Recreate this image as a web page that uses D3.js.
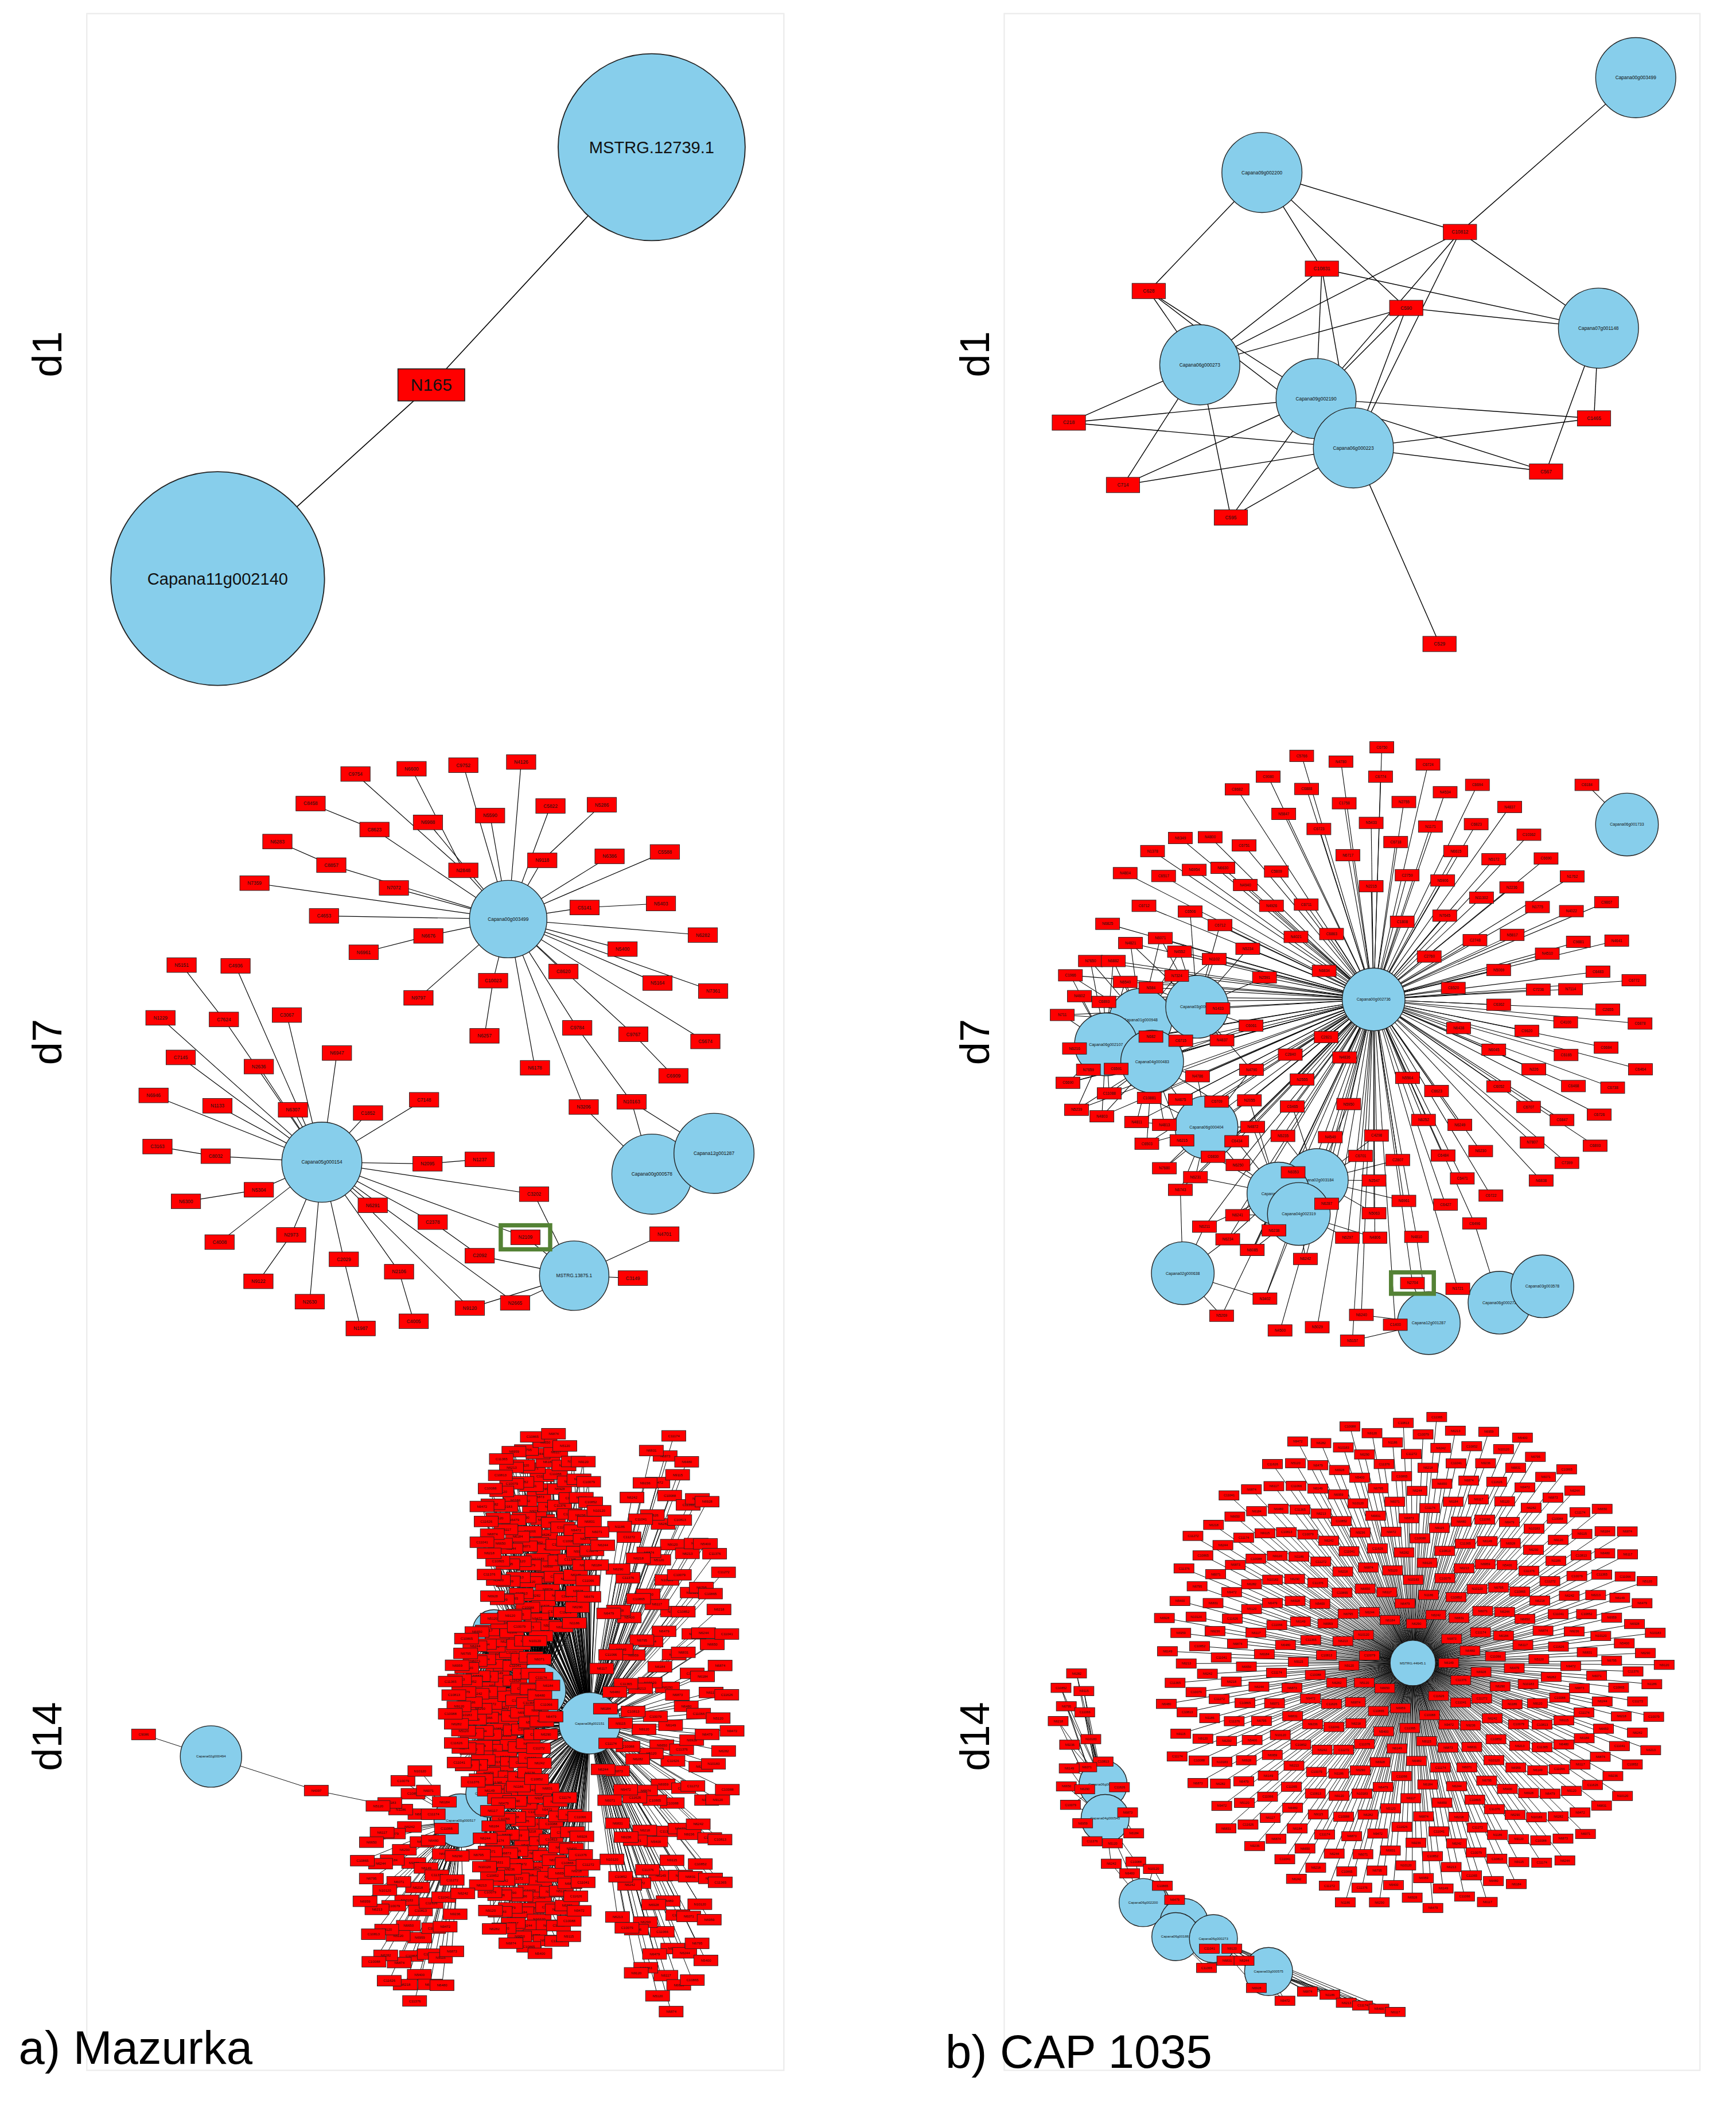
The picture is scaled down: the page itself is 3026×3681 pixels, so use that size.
<!DOCTYPE html>
<html>
<head>
<meta charset="utf-8">
<script src="https://cdn.jsdelivr.net/npm/d3@7"></script>
<style>
  body { margin: 0; background: #fff; }
  text { font-family: "Liberation Sans", Arial, sans-serif; }
</style>
</head>
<body>
<svg id="chart"></svg>
<script>
// ---------- data ----------
var rowLabels = ["d1", "d7", "d14"];
var panelTitles = ["a) Mazurka", "b) CAP 1035"];

// a) d1
var aD1Hubs = [["MSTRG.12739.1", 488, 110, 70], ["Capana11g002140", 163, 433, 80]];
var aD1Rects = [["N165", 323, 288, "MSTRG.12739.1;Capana11g002140"]];

// b) d1 (layout units)
var bD1Hubs = [["Capana00g003499", 1432, 162], ["Capana09g002200", 590, 387], ["Capana06g000273", 450, 843],
  ["Capana09g002190", 712, 923], ["Capana06g000223", 796, 1040], ["Capana07g001148", 1348, 756]];
var bD1Rects = [
  ["C10812", 1036, 528, "Capana00g003499;Capana09g002200;Capana07g001148;Capana06g000273;Capana09g002190;Capana06g000223"],
  ["C10831", 725, 615, "Capana09g002200;Capana07g001148;Capana06g000273;Capana09g002190;Capana06g000223"],
  ["C628", 335, 668, "Capana09g002200;Capana06g000273;Capana09g002190;Capana06g000223"],
  ["C590", 915, 708, "Capana09g002200;Capana07g001148;Capana06g000273;Capana09g002190;Capana06g000223"],
  ["C218", 155, 980, "Capana06g000273;Capana09g002190;Capana06g000223"],
  ["C1465", 1338, 970, "Capana07g001148;Capana09g002190;Capana06g000223"],
  ["C714", 277, 1128, "Capana06g000273;Capana09g002190;Capana06g000223"],
  ["C595", 520, 1205, "Capana06g000273;Capana09g002190;Capana06g000223"],
  ["C567", 1230, 1096, "Capana07g001148;Capana09g002190;Capana06g000223"],
  ["C529", 990, 1505, "Capana06g000223"]];

// a) d7 (layout units)
var aD7Hubs = [["H1", "Capana00g003499", 975, 480, 29], ["H2", "Capana05g000154", 543, 1088, 30],
  ["H3", "MSTRG.13875.1", 1128, 1372, 26], ["H4", "Capana00g000578", 1308, 1118, 30], ["H5", "Capana12g001287", 1452, 1066, 30]];
var aD7Rects = [
  ["C9754",621,117,"N2848"],["N6600",751,104,"N2848"],["C9752",871,95,"H1"],["N4126",1005,87,"H1"],
  ["C8458",517,191,"C8623"],["C8623",665,256,"H1"],["N6988",789,238,"H1"],["N5590",933,221,"H1"],
  ["C5822",1073,197,"H1"],["N5286",1192,194,"N9118"],["N6283",440,286,"C8857"],["C8857",565,345,"H1"],
  ["N9118",1054,333,"H1"],["N6386",1210,323,"H1"],["C5588",1338,312,"H1"],["N7359",387,390,"H1"],
  ["N7072",710,402,"H1"],["N2848",871,358,"H1"],["C4653",548,472,"H1"],["C5141",1152,451,"H1"],
  ["N5403",1329,441,"C5141"],["N6282",1426,520,"H1"],["N6676",790,522,"H1"],["N6961",640,563,"N6676"],
  ["N5400",1240,555,"H1"],["C8620",1103,611,"H1"],["N5164",1321,640,"H1"],["N7361",1450,660,"H1"],
  ["C10023",940,634,"H1"],["N9797",767,677,"H1"],["N6257",920,772,"C10023"],["C9784",1135,752,"H1"],
  ["C9767",1265,768,"H1"],["C5674",1432,786,"H1"],["N6178",1037,852,"H1"],["C6909",1358,872,"C9767"],
  ["N3206",1150,950,"H1;H4"],["N10163",1261,937,"C9784;H4;H5"],
  ["N5151",218,595,"C7624"],["C4936",343,597,"H2"],["N1229",169,727,"H2"],["C7624",316,731,"H2"],
  ["C3067",462,720,"H2"],["N6947",578,815,"H2"],["C7145",216,826,"H2"],["N2636",397,849,"H2"],
  ["N6946",153,921,"H2"],["N1133",301,947,"H2"],["N6307",476,957,"H2"],["C1852",650,965,"H2"],
  ["C7148",780,932,"H2"],["C3163",162,1049,"C8032"],["C8032",297,1073,"H2"],["N2095",788,1092,"H2"],
  ["N1237",909,1081,"N2095"],["C3202",1035,1168,"H2;H3"],["N5304",397,1157,"H2"],["N6300",228,1186,"N5304"],
  ["N6291",661,1196,"H2"],["C2378",800,1238,"H2"],["C4008",306,1288,"H2"],["N2973",472,1270,"H2"],
  ["N9122",396,1386,"N2973"],["C2029",594,1331,"H2"],["N2106",722,1362,"H2"],["C2092",909,1322,"C2378;H3"],
  ["N2109",1015,1276,"H2;H3"],["N2630",515,1437,"H2"],["N1987",633,1504,"C2029"],["C4005",756,1486,"N2106"],
  ["N9120",886,1453,"H2;H3"],["N2665",991,1440,"H2;H3"],["N4701",1337,1268,"H3"],["C3149",1264,1378,"H3"]];
var aD7Marked = "N2109";

// b) d7 (layout units)
var bD7Hubs = [["A","Capana00g002736",855,690],["B","Capana01g000948",285,740],["C","Capana03g000692",423,708],
  ["D","Capana06g002107",200,800],["E","Capana04g000483",313,842],["F","Capana06g000404",446,1003],
  ["G","Capana02g003184",716,1132],["H","Capana06g002959",622,1165],["I","Capana04g002319",672,1215],
  ["J","Capana02g000638",388,1360],["K","Capana12g001287",990,1482],["L","Capana06g000272",1163,1432],
  ["M","Capana03g003578",1268,1392],["N","Capana06g001733",1475,262]];
var bD7Rects = [
  [679,94,"C5766"],[775,108,"N4780"],[875,73,"C6750"],[988,115,"C6724"],[597,145,"C9080"],[691,175,"C6888"],
  [872,145,"C6774"],[1109,165,"C6694"],[521,176,"C8682"],[1030,183,"N4534"],[783,210,"C1758"],[929,207,"N2755"],
  [1188,219,"N4837"],[635,236,"N5847"],[849,258,"N5433"],[994,267,"N1171"],[721,273,"C6723"],[1106,261,"C6823"],
  [1235,287,"C10362"],[538,313,"C6751"],[909,305,"C6718"],[1056,327,"N6615"],[792,337,"N6717"],[1149,347,"N5172"],
  [1277,345,"C6690"],[617,377,"C5809"],[937,386,"C2759"],[1024,399,"N5906"],[849,413,"N2215"],[1193,416,"N2236"],
  [1341,389,"N1762"],[690,458,"C6711"],[605,461,"N4926"],[1119,441,"N11302"],[1256,464,"N1775"],[1425,452,"C9867"],
  [1029,485,"N7645"],[925,500,"C1808"],[1339,474,"N4022"],[752,530,"C6863"],[665,537,"N4021"],[1194,532,"N5817"],
  [1103,545,"C2748"],[1356,549,"C9881"],[1450,546,"N4641"],[991,585,"C2760"],[1280,578,"N4510"],[734,620,"N6834"],
  [1161,618,"N5069"],[1404,622,"C6483"],[1492,643,"C6772"],[1050,662,"C6520"],[1258,666,"C7236"],[1337,665,"N7114"],
  [1161,703,"C6362"],[1428,715,"C2655"],[1325,746,"C4100"],[1507,749,"C6878"],[1230,767,"C9620"],[1063,760,"N6438"],
  [1424,808,"C6684"],[1149,813,"N6045"],[1326,826,"C6165"],[1247,861,"N226"],[1508,861,"C6464"],[1161,903,"C6052"],
  [1344,902,"C6468"],[1440,906,"C6738"],[1234,953,"C6707"],[1316,985,"C6847"],[1407,972,"C6726"],[1243,1040,"N7807"],
  [1397,1048,"C6893"],[1328,1090,"C7399"],[1265,1133,"N6838"],[938,882,"N5564"],[1009,914,"C6623"],[977,985,"N6252"],
  [1066,997,"N6249"],[1117,1061,"N6230"],[1025,1072,"C6484"],[1072,1128,"C6471"],[1142,1170,"C6722"],[1031,1192,"C6427"],
  [1102,1238,"C6496"],[862,1023,"C4298"],[914,1083,"C2807"],[823,1073,"C6701"],[856,1133,"N2547"],[929,1183,"N6961"],
  [856,1213,"N5063"],[960,1271,"N4810"],[791,1273,"N6297"],[858,1273,"N4806"],[1061,1398,"N1721"],[908,1486,"C1400"],
  [825,1462,"N6240"],[803,1525,"N5157"],[717,1492,"N5029"],[626,1500,"N4500"],[483,1464,"N5269"],[589,1422,"N3402"],
  [688,1325,"N6242"],[740,1190,"N6287"],[784,832,"N4836"],[739,782,"C2821"],[680,886,"N2555"],[656,952,"C6465"],
  [794,946,"N5950"],[749,1027,"N4549"],[633,1024,"N5235"],[559,1002,"N4872"],[551,937,"N2055"],[651,825,"C2840"],
  [556,862,"N4790"],[588,636,"N2591"],[555,754,"C6061"],[484,790,"N4837"],[474,712,"N1433"],[547,566,"N5234"],
  [465,591,"N1102"],[382,295,"N6349"],[455,293,"N4800"],[314,327,"N1378"],[247,381,"N4804"],[341,388,"C6517"],
  [416,373,"N6954"],[486,368,"N6630"],[541,410,"N4940"],[293,461,"C6712"],[406,475,"C6506"],[479,508,"C6712"],
  [204,505,"N6825"],[333,540,"N6071"],[260,552,"N4821"],[380,573,"N4552"],[162,596,"N7650"],[218,596,"N6882"],
  [113,631,"C1966"],[247,647,"N6540"],[373,632,"N7324"],[310,661,"N584"],[135,682,"N4602"],[195,696,"C6893"],
  [93,728,"N711"],[123,810,"N6216"],[310,781,"N682"],[383,791,"C6715"],[157,862,"N7659"],[225,860,"C6591"],
  [107,894,"C6690"],[208,920,"C11088"],[424,878,"N4786"],[128,960,"N5239"],[190,976,"N4803"],[306,931,"C10881"],
  [382,935,"N4675"],[471,940,"C6709"],[275,990,"N4811"],[343,997,"N4813"],[300,1043,"C6503"],[386,1035,"N6215"],
  [520,1037,"C6434"],[462,1075,"C6830"],[523,1095,"N6250"],[343,1103,"N7680"],[419,1125,"N6231"],[382,1156,"N6743"],
  [658,1113,"N6353"],[522,1218,"N6241"],[441,1246,"N6211"],[498,1277,"N6234"],[558,1303,"N6085"],[611,1255,"N6238"],
  [950,1384,"N2704"]];
var bD7Lone = [1377, 165, "C6184", "N"];
var bD7Marked = "N2704";

// a) d14: hubs and rectangle groups (counts per group)
var aD14Hubs = [["S","Capana02g000494",235,893,23],["P","Capana00g000517",835,1053,20],["P2","Capana03g000102",905,985,18],
  ["Q","Capana08g002151",1145,810,23],["R1","Capana01g001287",1020,730,21],["R2","Capana04g000881",915,580,16]];
var aD14Side = [["C9086",73,838,"S"],["N4397",488,978,"S;P"]];
var aD14Groups = [
  {hubs: "Q", count: 150, cx: 1330, cy: 815, rx: 160, ry: 735},
  {hubs: "Q;R1", count: 115, cx: 1030, cy: 340, rx: 150, ry: 260},
  {hubs: "R1;R2;Q", count: 115, cx: 930, cy: 770, rx: 125, ry: 235},
  {hubs: "P2;Q", count: 95, cx: 1010, cy: 1170, rx: 135, ry: 225},
  {hubs: "P", count: 60, cx: 720, cy: 1220, rx: 125, ry: 300}];

// b) d14
var bD14Hub = ["MSTRG.44645.1", 943, 707, 17];
var bD14Disc = {count: 390, rOuter: 625, rInner: 85};
var bD14Chain = [["Capana06g001143",185,1010],["Capana04g000545",190,1095],["Capana06g002200",283,1305],
  ["Capana03g000577",383,1355],["Capana06g001883",363,1390],["Capana06g000273",455,1395],["Capana03g000575",590,1477]];
var bD14ChainRects = [[120,733],[82,769],[138,777],[95,815],[140,830],[75,852],[155,897],[103,911],[185,953],
  [145,967],[102,970],[95,1015],[140,1022],[225,1017],[105,1061],[245,1080],[135,1107],[260,1132],[158,1152],
  [208,1157],[205,1208],[265,1203],[308,1221],[250,1232],[330,1263],[360,1298],[445,1420],[500,1420],[488,1450],
  [438,1468],[530,1450],[560,1518],[685,1527],[740,1535],[630,1550],[780,1555],[820,1562],[860,1570],[900,1578]];

var labelPool = ["N6149","N6650","N6290","C11626","C10079","N6873","N6959","N6184","C11376","N5120","N6242","C10088",
  "N10120","N6480","C10865","N6479","C11041","N9120","N6831","C11365","N6244","N6928","N6874","N1186","N9472","N6213",
  "C11174","N5400","N6117","C11272","N6282","C10852","N9115","N6795","C11066","N6218","N10183","N9236","C10813","N6071"];

// ---------- drawing ----------
var W = 1300, H = 1581;
var svg = d3.select("#chart").attr("width", 3026).attr("height", 3681).attr("viewBox", "0 0 " + W + " " + H);
svg.append("rect").attr("width", W).attr("height", H).attr("fill", "#fff");

// panel frames
[[65, 587], [752, 1273]].forEach(function (f) {
  svg.append("rect").attr("x", f[0]).attr("y", 10).attr("width", f[1] - f[0]).attr("height", 1540)
    .attr("fill", "none").attr("stroke", "#ececec").attr("stroke-width", 1);
});

var BLUE = "#87CEEB", RED = "#FF0000";

function drawNet(g, hubs, rects, edges, o) {
  g.append("g").selectAll("line").data(edges).join("line")
    .attr("x1", d => d[0].x).attr("y1", d => d[0].y).attr("x2", d => d[1].x).attr("y2", d => d[1].y)
    .attr("stroke", "#000").attr("stroke-width", o.lw || 0.45);
  var hg = g.append("g").selectAll("g").data(hubs).join("g");
  hg.append("circle").attr("cx", d => d.x).attr("cy", d => d.y).attr("r", d => d.r)
    .attr("fill", BLUE).attr("stroke", "#222").attr("stroke-width", o.hw || 0.6);
  hg.append("text").attr("x", d => d.x).attr("y", d => d.y).attr("dy", "0.35em").attr("text-anchor", "middle")
    .attr("font-size", o.hf).attr("fill", "#111").text(d => d.label);
  var rg = g.append("g").selectAll("g").data(rects).join("g");
  rg.append("rect").attr("x", d => d.x - o.rw / 2).attr("y", d => d.y - o.rh / 2)
    .attr("width", o.rw).attr("height", o.rh).attr("fill", RED).attr("stroke", "#222").attr("stroke-width", o.rs || 0.4);
  rg.append("text").attr("x", d => d.x).attr("y", d => d.y).attr("dy", "0.35em").attr("text-anchor", "middle")
    .attr("font-size", o.rf).attr("fill", "#111").text(d => d.label);
}

function edgesFrom(list, index) {
  var e = [];
  list.forEach(function (n) {
    n.parents.split(";").forEach(function (p) { if (index[p]) e.push([n, index[p]]); });
  });
  return e;
}

function marker(g, n, w, h) {
  g.append("rect").attr("x", n.x - w / 2).attr("y", n.y - h / 2).attr("width", w).attr("height", h)
    .attr("fill", "none").attr("stroke", "#548235").attr("stroke-width", 3.2);
}

// a) d1
(function () {
  var g = svg.append("g");
  var idx = {};
  var hubs = aD1Hubs.map(d => (idx[d[0]] = {label: d[0], x: d[1], y: d[2], r: d[3]}));
  var rects = aD1Rects.map(d => ({label: d[0], x: d[1], y: d[2], parents: d[3]}));
  drawNet(g, hubs, rects, edgesFrom(rects, idx), {hf: 12.5, rw: 50, rh: 24, rf: 13, lw: 0.7, hw: 0.8, rs: 0.7});
})();

// b) d1
(function () {
  var x = d3.scaleLinear().domain([590, 1348]).range([945, 1197]);
  var y = d3.scaleLinear().domain([387, 1505]).range([129, 482]);
  var g = svg.append("g"), idx = {};
  var hubs = bD1Hubs.map(d => (idx[d[0]] = {label: d[0], x: x(d[1]), y: y(d[2]), r: 30}));
  var rects = bD1Rects.map(d => ({label: d[0], x: x(d[1]), y: y(d[2]), parents: d[3]}));
  drawNet(g, hubs, rects, edgesFrom(rects, idx), {hf: 3.6, rw: 25, rh: 11.5, rf: 3.6, lw: 0.6});
})();

// a) d7
(function () {
  var x = d3.scaleLinear().domain([543, 1128]).range([241, 430]);
  var y = d3.scaleLinear().domain([480, 1372]).range([688, 955]);
  var g = svg.append("g"), idx = {};
  var hubs = aD7Hubs.map(d => (idx[d[0]] = {label: d[1], x: x(d[2]), y: y(d[3]), r: d[4]}));
  var rects = aD7Rects.map(d => (idx[d[0]] = {label: d[0], x: x(d[1]), y: y(d[2]), parents: d[3]}));
  drawNet(g, hubs, rects, edgesFrom(rects, idx), {hf: 3.6, rw: 22, rh: 11, rf: 3.6, lw: 0.5});
  marker(g, idx[aD7Marked], 37, 18);
})();

// b) d7
(function () {
  var x = d3.scaleLinear().domain([0, 1000]).range([767, 1073]);
  var y = d3.scaleLinear().domain([0, 1000]).range([537, 843]);
  var g = svg.append("g"), idx = {};
  var hubs = bD7Hubs.map(d => (idx[d[0]] = {id: d[0], label: d[1], x: x(d[2]), y: y(d[3]), ux: d[2], uy: d[3], r: 23.5}));
  var rects = bD7Rects.map(function (d) {
    var others = hubs.filter(h => h.id !== "A" && h.id !== "N")
      .map(h => ({h: h, dist: Math.hypot(h.ux - d[0], h.uy - d[1])}))
      .sort((a, b) => a.dist - b.dist);
    var p = ["A"];
    if (others[0].dist < 240) p.push(others[0].h.id);
    if (d[0] < 600 && others[1].dist < 260) p.push(others[1].h.id);
    return (idx[d[2]] = {label: d[2], x: x(d[0]), y: y(d[1]), parents: p.join(";")});
  });
  rects.push({label: bD7Lone[2], x: x(bD7Lone[0]), y: y(bD7Lone[1]), parents: bD7Lone[3]});
  drawNet(g, hubs, rects, edgesFrom(rects, idx), {hf: 3, rw: 18, rh: 8.6, rf: 2.8, lw: 0.45});
  marker(g, idx[bD7Marked], 32, 16);
})();

// sunflower placement of a group of nodes inside an ellipse
var golden = Math.PI * (3 - Math.sqrt(5));
function spread(count, cx, cy, rx, ry, hole) {
  var t = d3.scaleLinear().domain([0, count]).range([hole * hole, 1]);
  return d3.range(count).map(function (i) {
    var rr = Math.sqrt(t(i + 0.5)), a = i * golden;
    return [cx + rx * rr * Math.cos(a), cy + ry * rr * Math.sin(a)];
  });
}

// a) d14
(function () {
  var x = d3.scaleLinear().domain([235, 835]).range([158, 345]);
  var y = d3.scaleLinear().domain([893, 1053]).range([1315, 1363]);
  var g = svg.append("g"), idx = {};
  var hubs = aD14Hubs.map(d => (idx[d[0]] = {label: d[1], x: x(d[2]), y: y(d[3]), r: d[4]}));
  var rects = aD14Side.map(d => (idx[d[0]] = {label: d[0], x: x(d[1]), y: y(d[2]), parents: d[3]}));
  var k = 0;
  aD14Groups.forEach(function (gr) {
    spread(gr.count, gr.cx, gr.cy, gr.rx, gr.ry, 0).forEach(function (p) {
      rects.push({label: labelPool[k++ % labelPool.length], x: x(p[0]), y: y(p[1]), parents: gr.hubs});
    });
  });
  // hubs behind rectangles are partly hidden as in the reference
  drawNet(g, hubs, rects, edgesFrom(rects, idx), {hf: 2.6, rw: 18, rh: 8, rf: 2.6, lw: 0.4});
})();

// b) d14
(function () {
  var x = d3.scaleLinear().domain([943, 1043]).range([1058, 1088.6]);
  var y = d3.scaleLinear().domain([707, 807]).range([1245, 1275]);
  var g = svg.append("g"), idx = {};
  var hub = idx.hub = {label: bD14Hub[0], x: x(bD14Hub[1]), y: y(bD14Hub[2]), r: bD14Hub[3]};
  var hubs = [hub];
  var chainHubs = bD14Chain.map(function (d, i) {
    var h = {label: d[0], x: x(d[1]), y: y(d[2]), ux: d[1], uy: d[2], r: 18};
    idx["c" + i] = h; return h;
  });
  var rects = [], k = 0;
  spread(bD14Disc.count, bD14Hub[1], bD14Hub[2], bD14Disc.rOuter, bD14Disc.rOuter, bD14Disc.rInner / bD14Disc.rOuter)
    .forEach(function (p) {
      rects.push({label: labelPool[k++ % labelPool.length], x: x(p[0]), y: y(p[1]), parents: "hub"});
    });
  bD14ChainRects.forEach(function (d) {
    var near = chainHubs.map((h, i) => ({i: i, dist: Math.hypot(h.ux - d[0], h.uy - d[1])}))
      .sort((a, b) => a.dist - b.dist);
    rects.push({label: labelPool[k++ % labelPool.length], x: x(d[0]), y: y(d[1]),
      parents: "c" + near[0].i + ";c" + near[1].i});
  });
  drawNet(g, hubs.concat(chainHubs), rects, edgesFrom(rects, idx), {hf: 2.6, rw: 15, rh: 7, rf: 2.4, lw: 0.4});
})();

// row labels and titles
var rowY = [265, 780, 1300];
[35, 730].forEach(function (lx) {
  rowLabels.forEach(function (t, i) {
    svg.append("text").attr("transform", "translate(" + lx + "," + rowY[i] + ") rotate(-90)")
      .attr("text-anchor", "middle").attr("dy", "0.35em").attr("font-size", 31).attr("fill", "#000").text(t);
  });
});
svg.append("text").attr("x", 14).attr("y", 1545).attr("font-size", 35).text(panelTitles[0]);
svg.append("text").attr("x", 708).attr("y", 1548).attr("font-size", 35).text(panelTitles[1]);
</script>
</body>
</html>
